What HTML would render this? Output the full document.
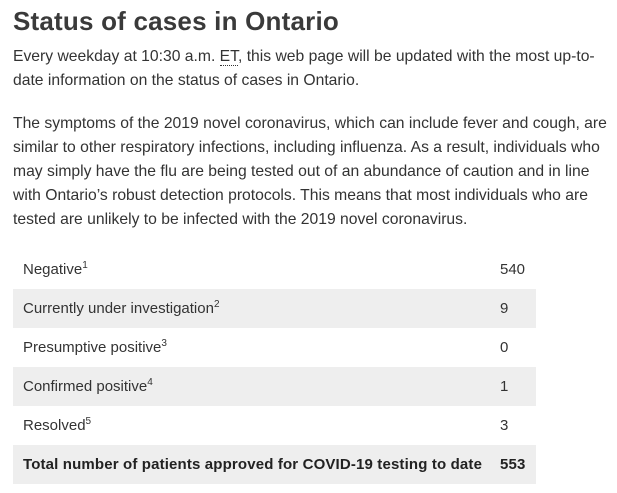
<!DOCTYPE html>
<html><head><meta charset="utf-8"><style>
body{margin:0;background:#fff;width:617px;height:493px;overflow:hidden;font-family:"Liberation Sans",sans-serif;color:#333;}
h1{position:absolute;left:13px;top:6px;margin:0;font-size:26px;font-weight:bold;color:#3a3a3a;white-space:nowrap;letter-spacing:0.2px}
.p{position:absolute;left:13px;font-size:15.7px;line-height:24px;white-space:nowrap;color:#333}
abbr{text-decoration:none;border-bottom:1px dotted #333}
table{position:absolute;left:13px;top:250px;width:523px;border-collapse:collapse;font-size:15px;color:#333}
td{height:39px;padding:0 0 0 10px;vertical-align:middle}
tr:nth-child(even) td{background:#eeeeee}
td.v{width:36px;padding-left:0}
sup{font-size:10px;vertical-align:6px;line-height:0}
b{color:#222;letter-spacing:0.15px}
</style></head><body>
<h1>Status of cases in Ontario</h1>
<div class="p" style="top:45px">Every weekday at 10:30 a.m. <abbr>ET</abbr>, this web page will be updated with the most up-to-<br>date information on the status of cases in Ontario.</div>
<div class="p" style="top:112px">The symptoms of the 2019 novel coronavirus, which can include fever and cough, are<br>similar to other respiratory infections, including influenza. As a result, individuals who<br>may simply have the flu are being tested out of an abundance of caution and in line<br>with Ontario’s robust detection protocols. This means that most individuals who are<br>tested are unlikely to be infected with the 2019 novel coronavirus.</div>
<table>
<tr><td>Negative<sup>1</sup></td><td class="v">540</td></tr>
<tr><td>Currently under investigation<sup>2</sup></td><td class="v">9</td></tr>
<tr><td>Presumptive positive<sup>3</sup></td><td class="v">0</td></tr>
<tr><td>Confirmed positive<sup>4</sup></td><td class="v">1</td></tr>
<tr><td>Resolved<sup>5</sup></td><td class="v">3</td></tr>
<tr><td><b>Total number of patients approved for COVID-19 testing to date</b></td><td class="v"><b>553</b></td></tr>
</table>
</body></html>
